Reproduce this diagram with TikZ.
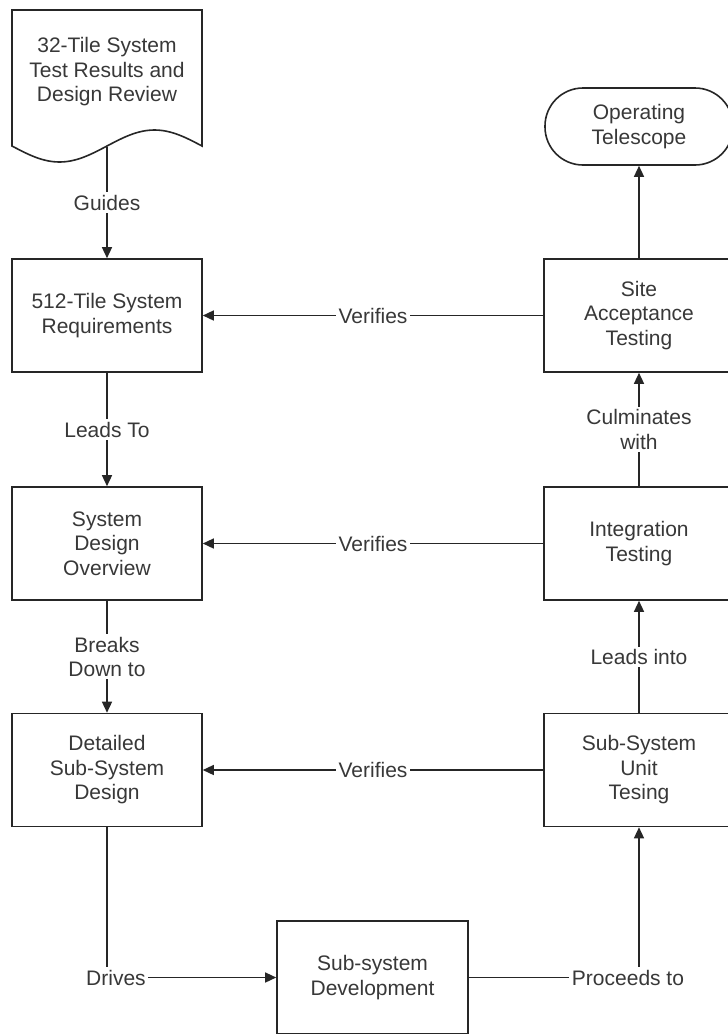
\documentclass[tikz,border=0pt]{standalone}
\usepackage{fontspec}
\setmainfont{Liberation Sans}
\usetikzlibrary{arrows.meta}
\begin{document}
\begin{tikzpicture}[x=1pt,y=-1pt,
  txt/.style={text=black!78, align=center, font=\fontsize{21}{24.5}\selectfont},
  box/.style={txt, draw=black!85, line width=1.6pt, minimum width=190pt, minimum height=113pt, inner sep=0pt},
  doctext/.style={txt, inner sep=0pt},
  lbl/.style={txt, fill=white, inner sep=2.5pt},
  arr/.style={draw=black!85, line width=1.4pt, -{Triangle[length=11pt,width=10pt]}},
  shapeline/.style={draw=black!85, line width=1.6pt}]
\useasboundingbox (0,0) rectangle (728,1034);
\fill[white] (0,0) rectangle (728,1034);
\clip (0,0) rectangle (728,1034);

% document shape
\draw[shapeline, fill=white] (12,146) -- (12,10) -- (202,10) -- (202,146)
  sin (154.5,130) cos (107,146) sin (59.5,162) cos (12,146) -- cycle;
\node[doctext] (doc) at (107,72) {32-Tile System\\Test Results and\\Design Review};
\coordinate (docb) at (107,147);

% left column
\node[box] (req) at (107,315.5) {512-Tile System\\Requirements};
\node[box] (sdo) at (107,543.5) {System\\Design\\Overview};
\node[box] (dsd) at (107,770) {Detailed\\Sub-System\\Design};

% bottom
\node[box, minimum width=191pt] (dev) at (372.5,977.5) {Sub-system\\Development};

% right column
\node[box] (unit) at (639,770) {Sub-System\\Unit\\Tesing};
\node[box] (integ) at (639,543.5) {Integration\\Testing};
\node[box] (site) at (639,315.5) {Site\\Acceptance\\Testing};
\node[box, rounded corners=38pt, minimum width=188pt, minimum height=77pt] (tele) at (639,126.5) {Operating\\Telescope};

% connectors
\draw[arr] (docb) -- node[lbl] {Guides} (req.north);
\draw[arr] (req.south) -- node[lbl] {Leads To} (sdo.north);
\draw[arr] (sdo.south) -- node[lbl] {Breaks\\Down to} (dsd.north);
\draw[arr] (dsd.south) |- node[lbl, pos=0.5, xshift=9pt] {Drives} (dev.west);
\draw[arr] (dev.east) -| node[lbl, pos=0.5, xshift=-11pt] {Proceeds to} (unit.south);
\draw[arr] (unit.north) -- node[lbl] {Leads into} (integ.south);
\draw[arr] (integ.north) -- node[lbl] {Culminates\\with} (site.south);
\draw[arr] (site.north) -- (tele.south);
\draw[arr] (site.west) -- node[lbl] {Verifies} (req.east);
\draw[arr] (integ.west) -- node[lbl] {Verifies} (sdo.east);
\draw[arr] (unit.west) -- node[lbl] {Verifies} (dsd.east);
\end{tikzpicture}
\end{document}
